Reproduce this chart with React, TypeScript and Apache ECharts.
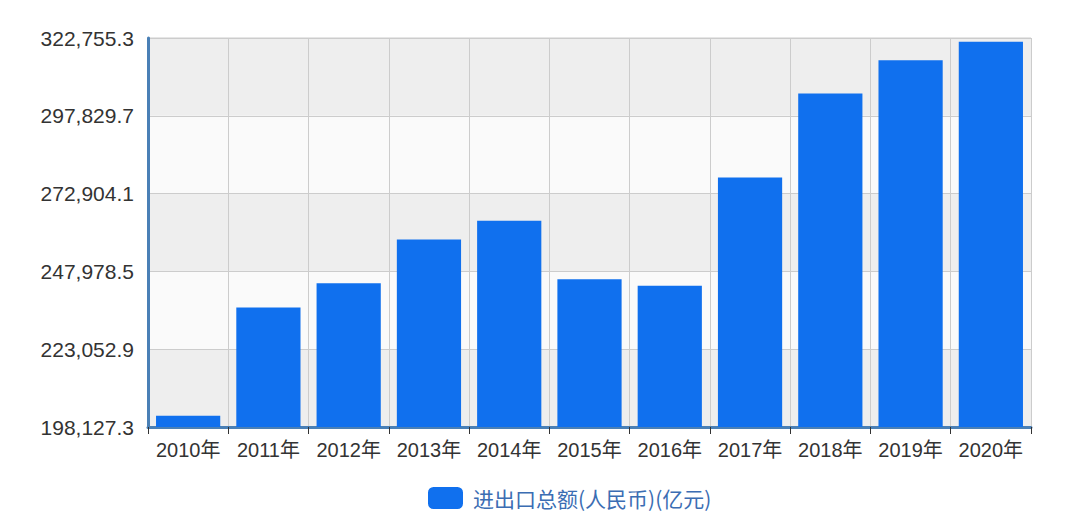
import React, { useEffect, useRef } from "react";
import * as echarts from "echarts";

const categories = ["2010年", "2011年", "2012年", "2013年", "2014年", "2015年", "2016年", "2017年", "2018年", "2019年", "2020年"];
const values = [201722.1, 236402.0, 244160.2, 258168.9, 264241.8, 245502.9, 243386.5, 278099.2, 305010.1, 315627.3, 321556.9];
const seriesName = "进出口总额(人民币)(亿元)";
const yMin = 198127.3;
const yMax = 322755.3;
const yInterval = 24925.6;

const fmt = (v: number) =>
  v.toLocaleString("en-US", { minimumFractionDigits: 1, maximumFractionDigits: 1 });

export default function App() {
  const ref = useRef<HTMLDivElement>(null);
  useEffect(() => {
    if (!ref.current) return;
    const chart = echarts.init(ref.current, undefined, { renderer: "svg" });
    const axisColor = "#4a80b6";
    chart.setOption({
      animation: false,
      backgroundColor: "#ffffff",
      textStyle: { fontFamily: "Liberation Sans, Arial, Noto Sans CJK SC, sans-serif" },
      grid: {
        left: 148,
        right: 49,
        top: 38,
        bottom: 105,
        show: true,
        borderColor: "#cccccc",
        borderWidth: 1,
      },
      legend: {
        bottom: 18,
        left: 423,
        itemWidth: 35,
        itemHeight: 22,
        icon: "roundRect",
        itemGap: 10,
        textStyle: { color: "#3b6db3", fontSize: 21, padding: [0, 0, 0, 5], fontFamily: "Noto Sans CJK SC, sans-serif" },
        data: [seriesName],
      },
      xAxis: {
        type: "category",
        data: categories,
        axisLine: { show: true, lineStyle: { color: axisColor, width: 3 } },
        axisTick: { show: true, interval: 0, alignWithLabel: false, length: 7, lineStyle: { color: "#333", width: 1 } },
        axisLabel: { color: "#333333", fontSize: 20, margin: 13, interval: 0 },
        splitLine: { show: true, interval: 0, lineStyle: { color: "#cccccc", width: 1 } },
      },
      yAxis: {
        type: "value",
        min: yMin,
        max: yMax,
        interval: yInterval,
        axisLine: { show: true, lineStyle: { color: axisColor, width: 3 } },
        axisTick: { show: false },
        axisLabel: { color: "#333333", fontSize: 21, margin: 14, formatter: (v: number) => fmt(v) },
        splitLine: { show: true, lineStyle: { color: "#cccccc", width: 1 } },
        splitArea: { show: true, areaStyle: { color: ["#eeeeee", "#fafafa"] } },
      },
      series: [
        {
          name: seriesName,
          type: "bar",
          data: values,
          barCategoryGap: "20%",
          itemStyle: { color: "#1070ee" },
        },
      ],
    });
    return () => chart.dispose();
  }, []);
  return <div ref={ref} style={{ position: "fixed", left: 0, top: 0, width: 1080, height: 532 }} />;
}
